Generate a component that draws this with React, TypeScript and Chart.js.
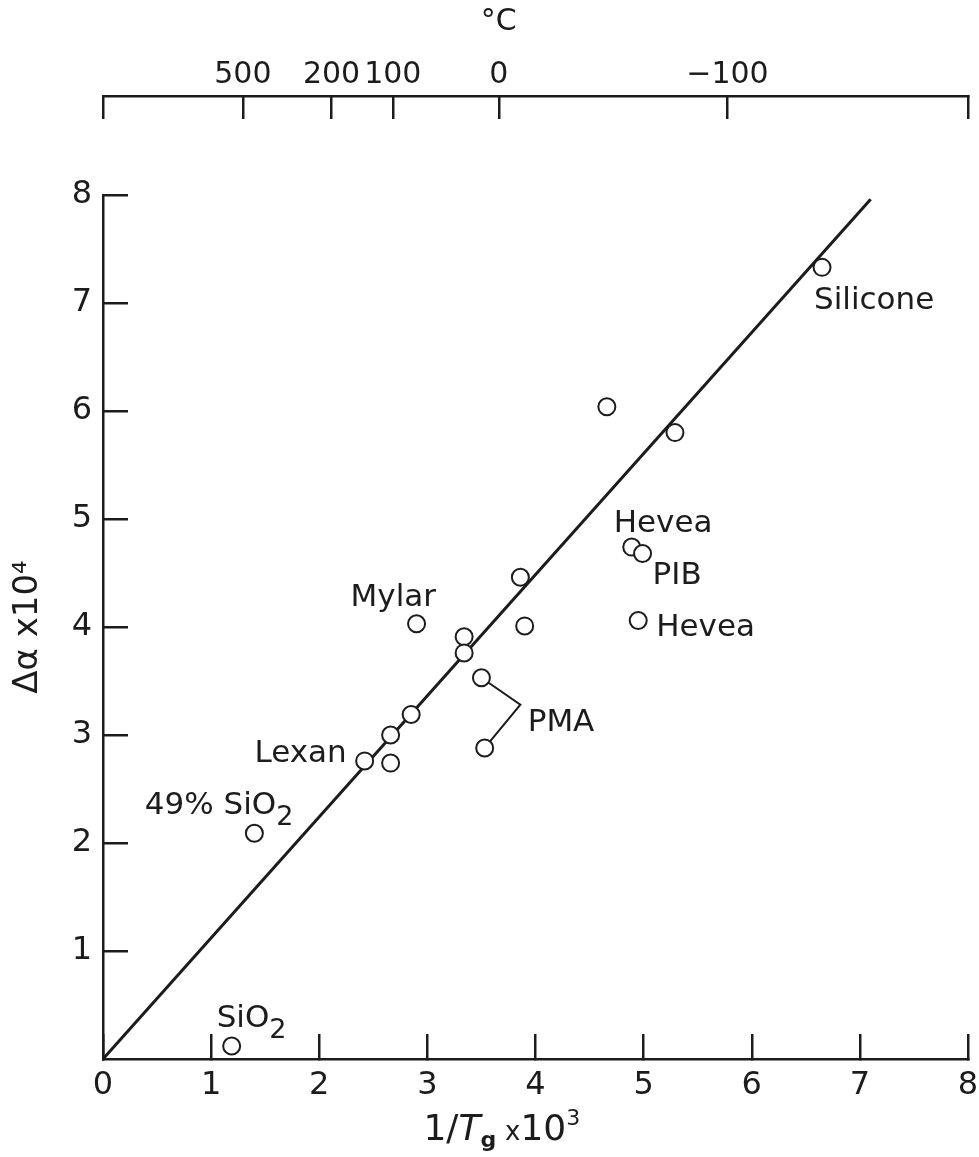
import { useEffect, useRef } from 'react';
import { Chart, registerables } from 'chart.js';

Chart.register(...registerables);

// Glass-transition data: reciprocal Tg (×10³, K⁻¹) against the jump in expansion coefficient Δα (×10⁴)
const INV_TG = [6.65, 4.66, 5.29, 4.89, 4.99, 4.95, 3.86, 3.90, 2.90, 3.34, 3.34, 3.50, 3.53, 2.85, 2.66, 2.66, 2.42, 1.40, 1.19];
const DELTA_ALPHA = [7.33, 6.04, 5.80, 4.74, 4.68, 4.06, 4.46, 4.01, 4.03, 3.91, 3.76, 3.53, 2.88, 3.19, 3.00, 2.74, 2.76, 2.09, 0.12];
const POLYMER = ['Silicone', '', '', 'Hevea', 'PIB', 'Hevea', '', '', 'Mylar', '', '', 'PMA', 'PMA', '', '', '', 'Lexan', '49% SiO₂', 'SiO₂'];

// Straight line through the origin
const FIT_X = [0, 7.1];
const FIT_Y = [0, 7.96];

// Corner of the bracket joining the two PMA points
const PMA_JOIN_X = 3.86;
const PMA_JOIN_Y = 3.28;

const X_TICKS = [0, 1, 2, 3, 4, 5, 6, 7, 8];
const Y_TICKS = [1, 2, 3, 4, 5, 6, 7, 8];
const CELSIUS_TICKS = [500, 200, 100, 0, -100];

const W = 979;
const H = 1157;
const INK = '#1c1c1c';
const FAMILY = '"DejaVu Sans", sans-serif';

// Where each name sits relative to its circle (px)
const LABEL_SPOTS: { point: number; dx: number; dy: number; align: 'left' | 'right' }[] = [
  { point: 0, dx: -8, dy: 42, align: 'left' },
  { point: 3, dx: -18, dy: -15, align: 'left' },
  { point: 4, dx: 10, dy: 30, align: 'left' },
  { point: 5, dx: 18, dy: 15, align: 'left' },
  { point: 8, dx: -66, dy: -18, align: 'left' },
  { point: 12, dx: 43, dy: -17, align: 'left' },
  { point: 16, dx: -18, dy: 1, align: 'right' },
  { point: 17, dx: 39, dy: -19, align: 'right' },
  { point: 18, dx: -15, dy: -19, align: 'left' },
];

type Run = { text: string; font: string; dy?: number };

const LABEL_FONT = `31px ${FAMILY}`;
const SUB_FONT = `27px ${FAMILY}`;

function labelRuns(text: string): Run[] {
  const parts = text.split('₂');
  const runs: Run[] = [];
  parts.forEach((part, i) => {
    if (part) runs.push({ text: part, font: LABEL_FONT });
    if (i < parts.length - 1) runs.push({ text: '2', font: SUB_FONT, dy: 11 });
  });
  return runs;
}

function drawRuns(ctx: CanvasRenderingContext2D, runs: Run[], x: number, y: number, align: 'left' | 'right') {
  let total = 0;
  for (const r of runs) {
    ctx.font = r.font;
    total += ctx.measureText(r.text).width;
  }
  let cx = align === 'right' ? x - total : x;
  for (const r of runs) {
    ctx.font = r.font;
    ctx.fillText(r.text, cx, y + (r.dy ?? 0));
    cx += ctx.measureText(r.text).width;
  }
}

const annotate = {
  id: 'annotate',
  afterDraw(chart: any) {
    const { ctx, chartArea } = chart;
    const x = chart.scales.x;
    const y = chart.scales.y;
    ctx.save();
    ctx.fillStyle = INK;
    ctx.textAlign = 'left';
    ctx.textBaseline = 'alphabetic';
    for (const spot of LABEL_SPOTS) {
      const px = x.getPixelForValue(INV_TG[spot.point]) + spot.dx;
      const py = y.getPixelForValue(DELTA_ALPHA[spot.point]) + spot.dy;
      drawRuns(ctx, labelRuns(POLYMER[spot.point]), px, py, spot.align);
    }
    // x-axis title: 1/Tg ×10³
    const titleRuns: Run[] = [
      { text: '1/', font: `36px ${FAMILY}` },
      { text: 'T', font: `italic 36px ${FAMILY}` },
      { text: 'g', font: `bold 22px ${FAMILY}`, dy: 7 },
      { text: ' ', font: `28px ${FAMILY}` },
      { text: 'x', font: `26px ${FAMILY}` },
      { text: '10', font: `36px ${FAMILY}` },
      { text: '3', font: `22px ${FAMILY}`, dy: -15 },
    ];
    drawRuns(ctx, titleRuns, x.getPixelForValue(3) - 4, chartArea.bottom + 81, 'left');
    ctx.restore();
  },
};

// Keep horizontal axes from reserving extra side margins for their end labels
const noSideMargins = (s: any) => {
  s.paddingLeft = 0;
  s.paddingRight = 0;
};

export default function App() {
  const ref = useRef<HTMLCanvasElement>(null);

  useEffect(() => {
    const canvas = ref.current;
    if (!canvas) return;

    const points = INV_TG.map((v, i) => ({ x: v, y: DELTA_ALPHA[i] }));
    const fit = FIT_X.map((v, i) => ({ x: v, y: FIT_Y[i] }));
    const pma = POLYMER.map((n, i) => (n === 'PMA' ? i : -1)).filter((i) => i >= 0);
    const bracket = [points[pma[0]], { x: PMA_JOIN_X, y: PMA_JOIN_Y }, points[pma[1]]];

    const chart = new Chart(canvas, {
      type: 'scatter',
      data: {
        datasets: [
          {
            label: 'Polymers',
            data: points,
            pointStyle: 'circle',
            pointRadius: 8.5,
            pointBorderWidth: 2,
            pointBackgroundColor: '#ffffff',
            pointBorderColor: INK,
            showLine: false,
            clip: false,
          } as any,
          {
            type: 'line',
            label: 'Fit',
            data: fit,
            borderColor: INK,
            borderWidth: 3,
            pointRadius: 0,
            fill: false,
            clip: false,
          } as any,
          {
            type: 'line',
            label: 'PMA bracket',
            data: bracket,
            borderColor: INK,
            borderWidth: 2,
            pointRadius: 0,
            fill: false,
            tension: 0,
          } as any,
        ],
      },
      options: {
        responsive: false,
        animation: false,
        devicePixelRatio: 1,
        events: [],
        font: { family: FAMILY },
        layout: { padding: { left: 0, right: W - 968, top: 0, bottom: 0 } },
        plugins: {
          legend: { display: false },
          tooltip: { enabled: false },
          // empty title keeps the gap between the °C axis and the plot
          title: { display: true, text: '', padding: 0, font: { size: 99, lineHeight: 1 } },
        },
        scales: {
          x: {
            type: 'linear',
            position: 'bottom',
            min: 0,
            max: 8,
            afterBuildTicks: (s: any) => {
              s.ticks = X_TICKS.map((value) => ({ value }));
            },
            afterFit: (s: any) => {
              s.height = 98;
              noSideMargins(s);
            },
            grid: { drawOnChartArea: false, color: INK, lineWidth: 2.5, tickLength: -25 },
            border: { color: INK, width: 2.5 },
            ticks: {
              color: INK,
              font: { size: 32, family: FAMILY },
              padding: 32,
              autoSkip: false,
              maxRotation: 0,
              minRotation: 0,
              callback: (v: any) => String(v),
            },
          },
          x2: {
            type: 'linear',
            position: 'top',
            weight: 3000,
            min: 0,
            max: 8,
            afterBuildTicks: (s: any) => {
              s.ticks = [0, ...CELSIUS_TICKS.map((c) => 1000 / (c + 273.15)), 8].map((value) => ({ value }));
            },
            afterFit: (s: any) => {
              s.height = 96;
              noSideMargins(s);
            },
            grid: { drawOnChartArea: false, color: INK, lineWidth: 2.5, tickLength: -23 },
            border: { color: INK, width: 2.5 },
            ticks: {
              color: INK,
              font: { size: 30, family: FAMILY, lineHeight: 1.75 },
              padding: 18,
              autoSkip: false,
              maxRotation: 0,
              minRotation: 0,
              callback: (_v: any, index: number) => {
                if (index === 0 || index > CELSIUS_TICKS.length) return '';
                const c = CELSIUS_TICKS[index - 1];
                const text = c < 0 ? `\u2212${Math.abs(c)}` : String(c);
                return c === 0 ? ['°C', text] : text;
              },
            },
          },
          y: {
            type: 'linear',
            position: 'left',
            min: 0,
            max: 8,
            afterBuildTicks: (s: any) => {
              s.ticks = Y_TICKS.map((value) => ({ value }));
            },
            afterFit: (s: any) => {
              s.width = 103;
            },
            grid: { drawOnChartArea: false, color: INK, lineWidth: 2.5, tickLength: -25 },
            border: { color: INK, width: 2.5 },
            ticks: {
              color: INK,
              font: { size: 32, family: FAMILY },
              padding: 36,
              autoSkip: false,
              callback: (v: any) => String(v),
            },
            title: {
              display: true,
              text: 'Δα x10⁴',
              color: INK,
              font: { size: 34, family: FAMILY },
              padding: { top: 8, bottom: 0 },
            },
          },
        },
      } as any,
      plugins: [annotate],
    });

    return () => chart.destroy();
  }, []);

  return (
    <div style={{ position: 'absolute', left: 0, top: 0, width: W, height: H, background: '#ffffff' }}>
      <canvas ref={ref} width={W} height={H} style={{ display: 'block', width: W, height: H }} />
    </div>
  );
}
